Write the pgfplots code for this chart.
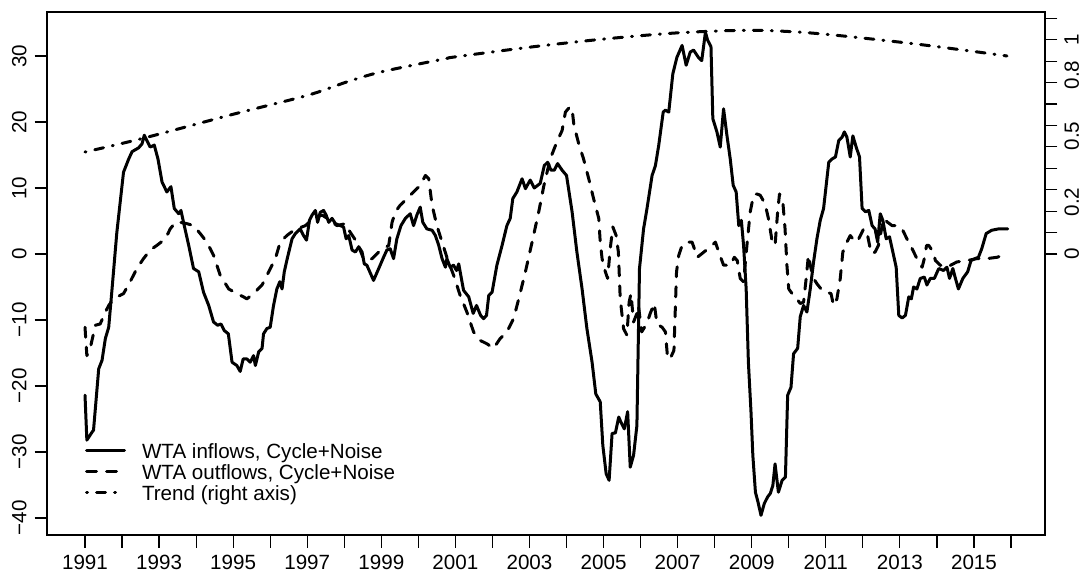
\documentclass[border=0pt]{standalone}
\usepackage{fontspec}
\setmainfont{Liberation Sans}
\usepackage{pgfplots}
\pgfplotsset{compat=1.18}
\begin{document}
\fontsize{10.3pt}{12.4pt}\selectfont
\begin{tikzpicture}
\useasboundingbox (-23.5pt,-19pt) rectangle (517pt,267.5pt);
\begin{axis}[
  at={(0,0)}, anchor=south west,
  scale only axis, width=499pt, height=261.5pt,
  xmin=1989.974, xmax=2016.918, ymin=-42.58, ymax=36.67,
  axis line style={line width=0.6pt},
  xtick pos=bottom, ytick pos=left, tick align=outside,
  major tick length=6.25pt,
  tick style={line width=0.6pt, black},
  xtick={1991,1992,1993,1994,1995,1996,1997,1998,1999,2000,2001,2002,2003,2004,2005,2006,2007,2008,2009,2010,2011,2012,2013,2014,2015,2016},
  xticklabels={},
  ytick={-40,-30,-20,-10,0,10,20,30},
  yticklabels={},
  legend style={at={(axis cs:1991,-28.64)}, anchor=north west, draw=none, fill=none,
    inner sep=0pt, outer sep=0pt, row sep=0pt,
    nodes={inner sep=0pt, text height=7.5pt, text depth=3pt, anchor=base west},
    /tikz/every odd column/.append style={column sep=8pt}},
  legend cell align=left,
  legend image code/.code={\draw[#1] (0pt,3.7pt) -- (19pt,3.7pt);},
  after end axis/.code={
    \foreach \yv/\lab in {-40/−40,-30/−30,-20/−20,-10/−10,0/0,10/10,20/20,30/30}{
      \node[rotate=90, anchor=south, inner sep=0pt] at ([xshift=-10pt]axis cs:1989.974,\yv) {\lab};}
    \foreach \xv in {1991,1993,1995,1997,1999,2001,2003,2005,2007,2009,2011,2013,2015}{
      \node[anchor=north, inner sep=0pt] at ([yshift=-10pt]axis cs:\xv,-42.58) {\xv};}
  },
]
\addplot[black, line width=1.5pt, line join=round, line cap=round] coordinates {
(1991.0,-21.4)(1991.05,-28.2)(1991.19,-27.0)(1991.23,-26.7)(1991.37,-17.4)(1991.46,-16.1)(1991.55,-12.8)(1991.64,-11.1)(1991.73,-5.3)(1991.86,3.3)(1992.04,12.4)(1992.18,14.4)(1992.27,15.5)(1992.45,16.1)(1992.54,16.7)(1992.60,18.0)(1992.67,17.2)(1992.76,16.2)(1992.87,16.5)(1992.97,14.4)(1993.08,10.9)(1993.21,9.4)(1993.32,10.2)(1993.41,6.9)(1993.53,6.1)(1993.59,6.6)(1993.68,4.3)(1993.80,1.3)(1993.93,-2.2)(1994.07,-2.7)(1994.20,-5.8)(1994.34,-7.8)(1994.47,-10.3)(1994.58,-10.8)(1994.67,-10.6)(1994.76,-11.6)(1994.87,-12.1)(1994.97,-16.4)(1995.10,-16.9)(1995.19,-17.8)(1995.27,-15.9)(1995.37,-15.9)(1995.46,-16.4)(1995.55,-15.4)(1995.60,-16.9)(1995.69,-14.8)(1995.78,-14.3)(1995.82,-12.1)(1995.91,-11.3)(1996.00,-11.1)(1996.09,-7.8)(1996.18,-5.3)(1996.26,-4.2)(1996.32,-5.3)(1996.38,-2.7)(1996.46,-0.7)(1996.59,2.3)(1996.68,3.1)(1996.81,3.8)(1996.90,2.8)(1996.98,2.1)(1997.06,5.1)(1997.13,5.9)(1997.22,6.6)(1997.28,4.8)(1997.35,6.3)(1997.44,6.6)(1997.51,5.9)(1997.58,4.8)(1997.67,5.4)(1997.76,4.6)(1997.89,4.3)(1997.98,4.1)(1998.05,2.3)(1998.12,2.8)(1998.21,0.6)(1998.30,0.3)(1998.39,1.1)(1998.48,0.3)(1998.54,-1.5)(1998.61,-1.7)(1998.79,-4.0)(1998.93,-2.2)(1999.06,-0.5)(1999.15,0.6)(1999.24,0.8)(1999.33,-0.7)(1999.42,2.3)(1999.53,4.3)(1999.65,5.4)(1999.78,6.1)(1999.87,4.3)(1999.96,5.9)(2000.05,7.1)(2000.12,4.8)(2000.23,3.8)(2000.37,3.6)(2000.46,2.8)(2000.55,1.3)(2000.64,-0.7)(2000.73,-2.0)(2000.77,-0.7)(2000.86,-2.0)(2000.95,-1.7)(2001.03,-2.5)(2001.09,-1.5)(2001.22,-5.5)(2001.36,-6.5)(2001.48,-9.0)(2001.57,-7.8)(2001.68,-9.3)(2001.76,-9.8)(2001.84,-9.3)(2001.90,-6.3)(2001.99,-5.8)(2002.12,-1.7)(2002.26,1.3)(2002.39,4.3)(2002.48,5.4)(2002.55,8.4)(2002.66,9.4)(2002.80,11.4)(2002.89,9.9)(2003.02,11.2)(2003.13,10.0)(2003.29,10.7)(2003.40,13.4)(2003.49,13.9)(2003.58,12.7)(2003.67,12.7)(2003.76,13.7)(2003.88,12.7)(2004.00,11.9)(2004.15,6.4)(2004.28,0.3)(2004.42,-5.3)(2004.55,-11.3)(2004.69,-16.4)(2004.79,-21.2)(2004.91,-22.4)(2004.98,-29.0)(2005.07,-33.3)(2005.15,-34.3)(2005.23,-27.2)(2005.32,-27.1)(2005.41,-24.7)(2005.47,-25.5)(2005.56,-26.5)(2005.65,-23.9)(2005.72,-32.3)(2005.81,-30.5)(2005.90,-26.0)(2005.97,-2.2)(2006.08,3.8)(2006.17,6.8)(2006.31,11.9)(2006.40,13.4)(2006.49,16.5)(2006.61,21.5)(2006.67,21.8)(2006.76,21.5)(2006.87,27.3)(2006.98,29.8)(2007.12,31.6)(2007.23,28.6)(2007.34,30.6)(2007.43,30.9)(2007.56,29.8)(2007.65,29.3)(2007.75,33.6)(2007.81,32.4)(2007.90,31.4)(2007.95,20.5)(2008.06,18.5)(2008.15,16.2)(2008.24,22.0)(2008.33,18.0)(2008.42,14.4)(2008.50,10.4)(2008.58,9.4)(2008.65,4.3)(2008.72,5.1)(2008.78,1.3)(2008.85,-5.3)(2008.91,-16.4)(2008.98,-23.9)(2009.03,-30.5)(2009.10,-36.1)(2009.17,-37.6)(2009.25,-39.6)(2009.34,-37.8)(2009.43,-36.8)(2009.50,-36.3)(2009.57,-35.1)(2009.63,-31.8)(2009.72,-36.1)(2009.82,-34.3)(2009.91,-33.8)(2009.97,-21.4)(2010.06,-20.2)(2010.13,-15.1)(2010.24,-14.3)(2010.31,-9.5)(2010.40,-7.8)(2010.49,-8.8)(2010.58,-5.3)(2010.67,-1.2)(2010.76,2.3)(2010.85,5.1)(2010.94,6.9)(2011.08,13.9)(2011.17,14.4)(2011.26,14.7)(2011.35,17.2)(2011.44,17.7)(2011.50,18.5)(2011.57,17.7)(2011.66,14.7)(2011.73,17.9)(2011.82,16.2)(2011.91,14.7)(2011.98,6.9)(2012.07,6.4)(2012.16,6.6)(2012.25,4.3)(2012.33,3.8)(2012.40,1.8)(2012.47,6.1)(2012.54,5.1)(2012.63,2.3)(2012.72,2.6)(2012.81,0.3)(2012.90,-2.0)(2012.97,-9.3)(2013.06,-9.7)(2013.15,-9.3)(2013.24,-6.5)(2013.31,-6.8)(2013.37,-5.0)(2013.46,-5.3)(2013.55,-3.7)(2013.66,-3.5)(2013.73,-4.7)(2013.82,-3.7)(2013.93,-3.7)(2014.05,-2.2)(2014.18,-2.5)(2014.27,-2.0)(2014.34,-3.7)(2014.43,-2.2)(2014.49,-3.5)(2014.58,-5.3)(2014.70,-3.7)(2014.83,-2.7)(2014.92,-1.0)(2015.03,-0.7)(2015.12,-0.5)(2015.21,0.8)(2015.33,3.1)(2015.48,3.6)(2015.66,3.8)(2015.91,3.8)
};
\addlegendentry{WTA inflows, Cycle+Noise}
\addplot[black, line width=1.5pt, line cap=round, dash pattern=on 5pt off 5pt, line join=round] coordinates {
(1991.0,-11.1)(1991.05,-15.4)(1991.14,-14.3)(1991.28,-10.8)(1991.41,-10.6)(1991.55,-8.8)(1991.64,-7.8)(1991.77,-6.8)(1992.04,-6.0)(1992.22,-4.2)(1992.40,-2.2)(1992.58,-0.7)(1992.76,0.6)(1992.94,1.3)(1993.17,2.3)(1993.30,3.8)(1993.44,4.8)(1993.57,4.8)(1993.75,4.6)(1993.93,4.3)(1994.11,3.1)(1994.29,1.8)(1994.47,-0.2)(1994.65,-3.2)(1994.88,-5.3)(1995.10,-6.0)(1995.28,-6.5)(1995.37,-6.8)(1995.55,-6.0)(1995.78,-4.7)(1995.96,-2.7)(1996.14,-0.7)(1996.27,1.8)(1996.45,2.8)(1996.64,3.6)(1996.77,3.9)(1996.95,4.3)(1997.17,5.4)(1997.40,5.9)(1997.62,5.1)(1997.80,4.3)(1998.03,4.6)(1998.16,3.3)(1998.34,1.8)(1998.52,-0.7)(1998.61,-1.0)(1998.75,-0.7)(1998.93,0.3)(1999.06,0.8)(1999.20,1.3)(1999.29,4.8)(1999.38,6.4)(1999.51,7.4)(1999.69,8.4)(1999.87,9.4)(2000.05,10.4)(2000.19,11.9)(2000.28,11.4)(2000.37,7.4)(2000.50,4.3)(2000.64,1.8)(2000.77,-0.5)(2000.95,-3.2)(2001.13,-6.3)(2001.31,-8.8)(2001.49,-11.8)(2001.67,-13.1)(2001.85,-13.6)(2002.03,-14.3)(2002.21,-12.8)(2002.39,-11.8)(2002.57,-9.8)(2002.71,-6.8)(2002.89,-2.7)(2003.07,1.8)(2003.25,6.4)(2003.39,10.4)(2003.56,14.4)(2003.74,17.0)(2003.88,18.7)(2003.97,21.5)(2004.09,22.3)(2004.15,22.0)(2004.20,19.5)(2004.33,16.7)(2004.46,14.4)(2004.60,11.4)(2004.73,8.4)(2004.87,5.4)(2004.91,1.8)(2004.96,-0.7)(2005.02,-2.2)(2005.11,-3.7)(2005.18,0.8)(2005.25,4.1)(2005.34,2.8)(2005.40,0.3)(2005.45,-6.8)(2005.54,-11.3)(2005.63,-12.3)(2005.69,-7.3)(2005.74,-6.0)(2005.81,-10.3)(2005.90,-9.0)(2005.94,-7.8)(2006.03,-11.8)(2006.17,-10.5)(2006.26,-9.0)(2006.37,-7.5)(2006.44,-10.6)(2006.58,-11.1)(2006.67,-11.8)(2006.73,-15.9)(2006.82,-15.6)(2006.90,-14.6)(2006.97,-2.7)(2007.03,-0.2)(2007.12,1.3)(2007.26,1.8)(2007.39,1.8)(2007.53,-0.5)(2007.71,0.3)(2007.93,1.3)(2008.02,1.8)(2008.11,0.3)(2008.24,-1.7)(2008.42,-1.7)(2008.53,-0.5)(2008.61,-1.0)(2008.69,-3.7)(2008.78,-4.2)(2008.87,1.3)(2008.96,6.4)(2009.05,8.9)(2009.14,9.1)(2009.23,8.9)(2009.36,7.6)(2009.45,5.4)(2009.54,2.3)(2009.63,1.3)(2009.70,6.4)(2009.75,9.1)(2009.84,7.9)(2009.90,3.8)(2009.95,-1.7)(2010.00,-5.3)(2010.09,-6.0)(2010.18,-6.5)(2010.31,-7.5)(2010.40,-7.3)(2010.47,-3.7)(2010.53,-0.2)(2010.60,-2.2)(2010.67,-3.7)(2010.76,-4.5)(2010.90,-5.5)(2011.03,-5.8)(2011.14,-6.0)(2011.21,-7.8)(2011.30,-6.8)(2011.39,-3.7)(2011.46,0.3)(2011.57,1.8)(2011.66,2.8)(2011.80,1.8)(2011.89,2.3)(2012.02,3.8)(2012.11,3.3)(2012.20,0.8)(2012.25,0.05)(2012.33,0.3)(2012.42,1.3)(2012.56,5.4)(2012.67,4.8)(2012.79,4.3)(2012.92,4.3)(2013.06,3.8)(2013.19,2.3)(2013.33,0.8)(2013.46,-0.7)(2013.60,-2.0)(2013.66,-0.7)(2013.72,1.3)(2013.78,1.3)(2013.90,0.3)(2013.96,-1.0)(2014.09,-1.7)(2014.27,-2.0)(2014.54,-1.2)(2014.81,-1.0)(2015.08,-0.7)(2015.35,-0.7)(2015.62,-0.5)(2015.91,0.05)
};
\addlegendentry{WTA outflows, Cycle+Noise}
\addlegendimage{black, line width=1.5pt, line cap=round, dash pattern=on 0.5pt off 4.5pt on 4.5pt off 4.5pt}
\addlegendentry{Trend (right axis)}
\end{axis}
\begin{axis}[
  at={(0,0)}, anchor=south west,
  scale only axis, width=499pt, height=261.5pt,
  xmin=1989.974, xmax=2016.918, ymin=-1.3112, ymax=1.1293,
  axis x line=none, axis y line*=right,
  axis line style={line width=0.6pt},
  tick align=outside, major tick length=6.25pt,
  tick style={line width=0.6pt, black},
  ytick={0,0.1,0.2,0.3,0.4,0.5,0.6,0.7,0.8,0.9,1.0,1.1},
  yticklabels={},
  after end axis/.code={
    \foreach \yv/\lab in {0/0,0.243/0.2,0.551/0.5,0.835/0.8,1.0/1}{
      \node[rotate=90, anchor=north, inner sep=0pt] at ([xshift=9.5pt]axis cs:2016.918,\yv) {\lab};}
  },
]
\addplot[black, line width=1.5pt, line cap=round, dash pattern=on 0.5pt off 4.5pt on 4.5pt off 4.5pt, smooth] coordinates {
(1991.0,0.476)(1992.59,0.541)(1995.02,0.653)(1997.0,0.740)(1998.07,0.803)(1999.0,0.850)(2000.69,0.910)(2001.0,0.920)(2003.0,0.965)(2005.0,1.003)(2007.0,1.032)(2008.87,1.044)(2010.22,1.036)(2011.49,1.017)(2013.38,0.981)(2015.0,0.945)(2015.89,0.924)
};
\end{axis}
\end{tikzpicture}
\end{document}
